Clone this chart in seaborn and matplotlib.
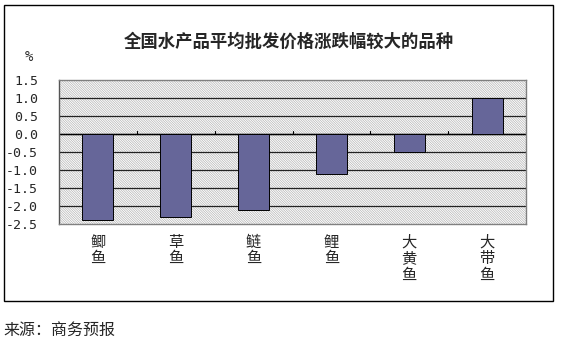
import matplotlib
matplotlib.use("Agg")
import matplotlib.pyplot as plt
import seaborn as sns
import pandas as pd
from matplotlib.patches import Rectangle

# Categories and price changes (%)
species = ["鲫鱼", "草鱼", "鲢鱼", "鲤鱼", "大黄鱼", "大带鱼"]
change = [-2.4, -2.3, -2.1, -1.1, -0.5, 1.0]
yticks = [1.5, 1.0, 0.5, 0.0, -0.5, -1.0, -1.5, -2.0, -2.5]

sns.set_style("white")
plt.rcParams["font.family"] = ["Noto Sans CJK SC", "DejaVu Sans"]
plt.rcParams["hatch.linewidth"] = 0.5

df = pd.DataFrame({"species": species, "change": change})

fig = plt.figure(figsize=(5.61, 3.42), dpi=100)
W, H = 561, 342
ax = fig.add_axes([59 / W, 1 - 224 / H, (526 - 59) / W, (224 - 80) / H])

# hatched plot background
bg = Rectangle((0, 0), 1, 1, transform=ax.transAxes, facecolor="white",
               edgecolor="#b4b4b4", hatch="\\" * 14, linewidth=0, zorder=0)
ax.add_patch(bg)

sns.barplot(data=df, x="species", y="change", ax=ax, color="#666699",
            saturation=1, width=0.4, edgecolor="black", linewidth=0.7, zorder=3)

ax.set_ylim(-2.5, 1.5)
ax.set_xlim(-0.5, len(species) - 0.5)
ax.set_yticks(yticks)
ax.set_yticklabels([f"{v:.1f}" for v in yticks],
                   family="DejaVu Sans Mono", fontsize=9.5)
for y in yticks[1:-1]:
    ax.axhline(y, color="#222222", linewidth=0.9, zorder=1)

# category axis crossing at zero with boundary tick marks
ax.axhline(0, color="black", linewidth=1.0, zorder=2)
for b in range(1, len(species)):
    ax.plot([b - 0.5, b - 0.5], [0, 0.07], color="black", linewidth=0.8, zorder=2)

ax.set_xticks(range(len(species)))
ax.set_xticklabels(["\n".join(s) for s in species], fontsize=11, linespacing=0.95,
                   va="top")
ax.tick_params(axis="x", length=0, pad=7)
ax.tick_params(axis="y", length=0, pad=15)
ax.set_xlabel("")
ax.set_ylabel("")

for side, sp in ax.spines.items():
    sp.set_visible(True)
    sp.set_color("#808080")
    sp.set_linewidth(1.0)
ax.spines["left"].set_color("#555555")

fig.text(289 / W, 1 - 42 / H, "全国水产品平均批发价格涨跌幅较大的品种",
         ha="center", va="center", fontsize=12.5, fontweight="bold")
fig.text(29 / W, 1 - 57 / H, "%", ha="center", va="center", fontsize=10,
         family="DejaVu Sans Mono")
fig.text(3 / W, 1 - 330 / H, "来源：商务预报", ha="left", va="center", fontsize=11.5)

# outer frame
fig.add_artist(Rectangle((3.5 / W, 1 - 301 / H), (553 - 3.5) / W, (301 - 4.5) / H,
                         transform=fig.transFigure, fill=False,
                         edgecolor="black", linewidth=1.0))

fig.savefig("out.png", dpi=100)
